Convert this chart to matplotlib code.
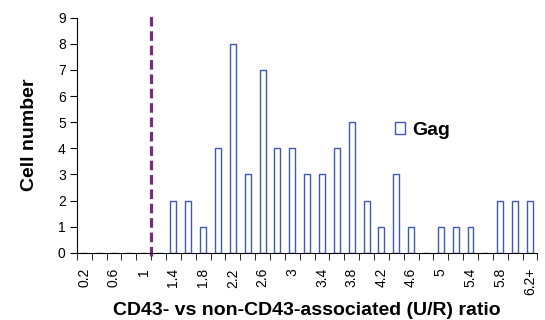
import matplotlib.pyplot as plt
import numpy as np

plt.rcParams['font.family'] = ['Liberation Sans', 'DejaVu Sans']

categories = ["0.2", "0.4", "0.6", "0.8", "1", "1.2", "1.4", "1.6", "1.8", "2", "2.2",
              "2.4", "2.6", "2.8", "3", "3.2", "3.4", "3.6", "3.8", "4", "4.2", "4.4",
              "4.6", "4.8", "5", "5.2", "5.4", "5.6", "5.8", "6", "6.2+"]
gag_counts = [0, 0, 0, 0, 0, 0, 2, 2, 1, 4, 8,
              3, 7, 4, 4, 3, 3, 4, 5, 2, 1, 3,
              1, 0, 1, 1, 1, 0, 2, 2, 2]
cutoff_after = "1"

fig = plt.figure(figsize=(5.45, 3.2), dpi=100)
ax = fig.add_axes([0.141, 0.21, 0.845, 0.735])

x = np.arange(len(categories))
ax.bar(x, gag_counts, width=0.4, color="white", edgecolor="#3f58b5", linewidth=1.0, label="Gag")

# cut-off line between 1 and 1.2
xc = categories.index(cutoff_after) + 0.5
ax.plot([xc, xc], [-0.14, 9.2], color="#7b2a7e", linestyle=(0, (3, 1.5)), linewidth=2.3, clip_on=False)

ax.set_xlim(-0.5, len(categories) - 0.5)
ax.set_ylim(0, 9)
ax.set_yticks(range(10))
ax.tick_params(axis="y", labelsize=10, length=5, direction="out", pad=3)

ax.set_xticks(x[::2])
ax.set_xticklabels(categories[::2], rotation=90, fontsize=10)
ax.set_xticks(np.arange(-0.5, len(categories)), minor=True)
ax.tick_params(axis="x", which="major", length=0, pad=11)
ax.tick_params(axis="x", which="minor", length=5, direction="out")

ax.spines["top"].set_visible(False)
ax.spines["right"].set_visible(False)

ax.set_xlabel("CD43- vs non-CD43-associated (U/R) ratio", fontsize=14, fontweight="bold", labelpad=5)
ax.set_ylabel("Cell number", fontsize=14, fontweight="bold", labelpad=14)

ax.legend(loc="center left", bbox_to_anchor=(0.69, 0.52), frameon=False, prop={"weight": "bold", "size": 14},
          handlelength=0.55, handleheight=0.55, handletextpad=0.35, borderpad=0, borderaxespad=0)

plt.savefig("out.png", dpi=100)
plt.close()
